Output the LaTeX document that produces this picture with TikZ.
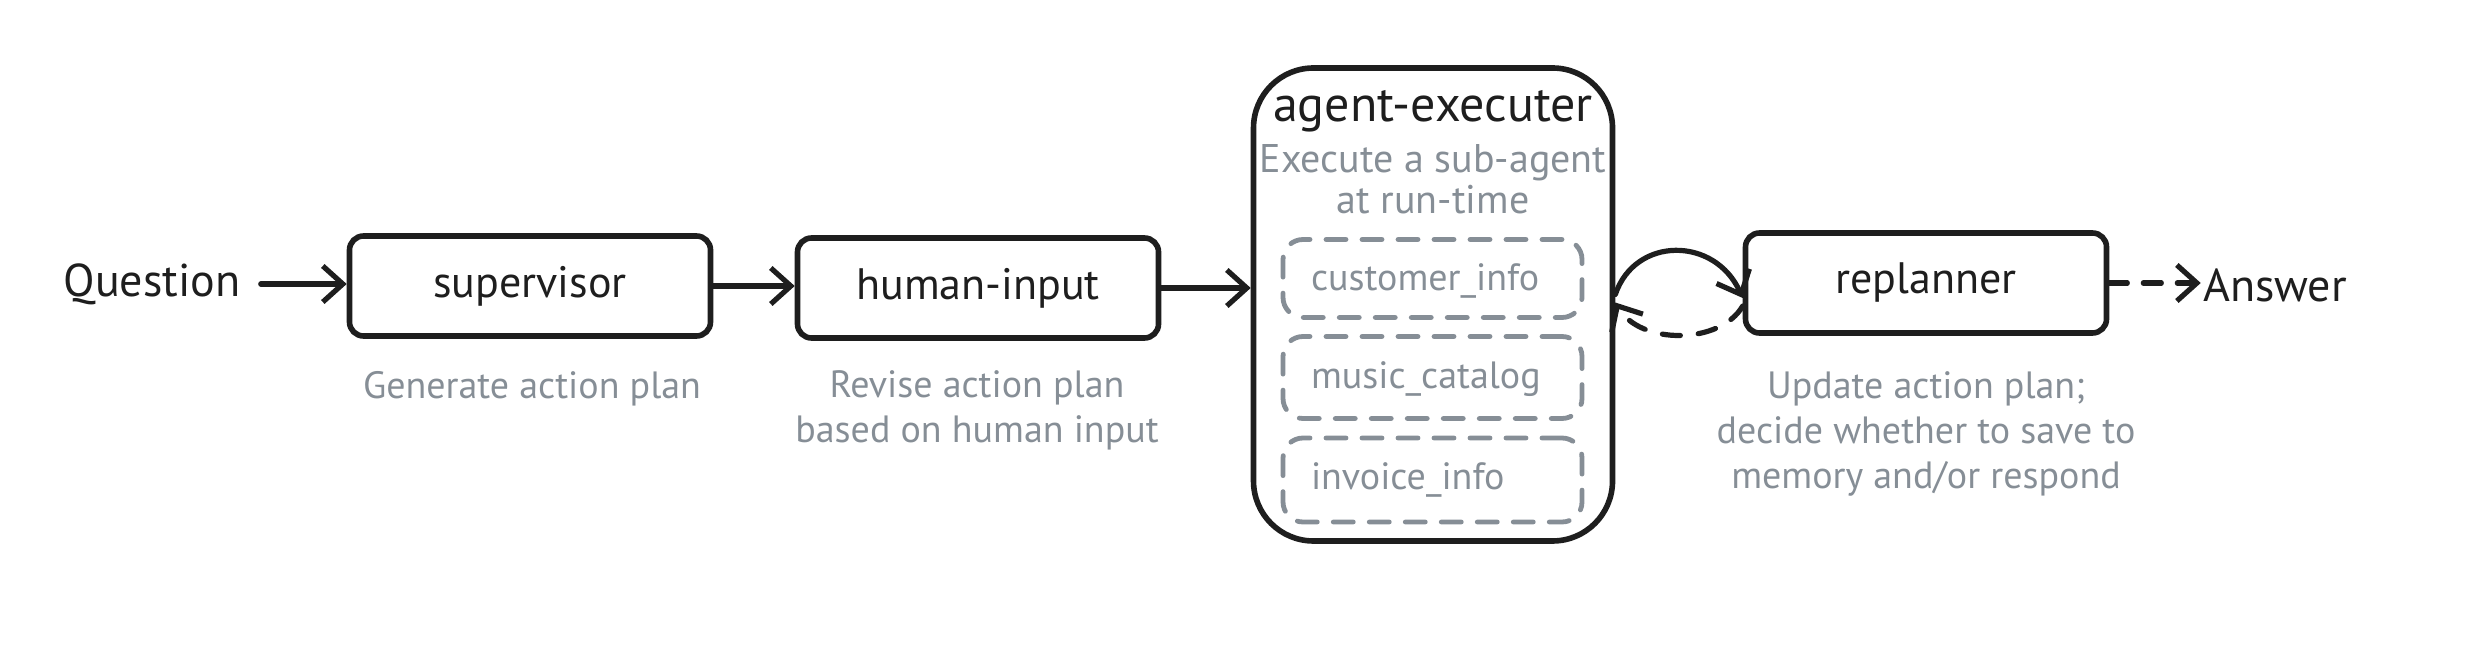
\documentclass[tikz,border=0pt]{standalone}
\usepackage{fontspec}
\setmainfont{PT Sans}
\usetikzlibrary{arrows.meta}
\definecolor{ink}{HTML}{1E1E1E}
\definecolor{note}{HTML}{868E96}
\begin{document}
\begin{tikzpicture}[x=0.5pt,y=-0.5pt,
  box/.style={draw=ink, line width=2.8pt, rounded corners=7pt, minimum width=180.5pt, minimum height=50pt, inner sep=0pt, font=\fontsize{22}{26}\selectfont, text=ink},
  sub/.style={draw=note, line width=2.4pt, dash pattern=on 10pt off 8pt, line cap=round, rounded corners=10pt, minimum width=149.5pt, inner sep=0pt},
  subtxt/.style={text=note, font=\fontsize{19}{22}\selectfont, anchor=west, inner sep=0pt},
  lbl/.style={text=ink, font=\fontsize{23}{26}\selectfont, inner sep=1pt},
  notetxt/.style={text=note, font=\fontsize{19}{22.5}\selectfont, align=center, inner sep=0pt},
  arr/.style={draw=ink, line width=2.6pt, line cap=round, -{Straight Barb[length=10pt,width=18pt,line width=2.6pt]}},
]
\useasboundingbox (0,0) rectangle (2482,656);
% main nodes
\node[lbl] (q) at (152,284) {Question};
\node[box] (sup) at (530,286) {supervisor};
\node[box] (hum) at (978,288) {human-input};
\node[draw=ink, line width=2.8pt, rounded corners=30pt, minimum width=179.5pt, minimum height=236.5pt] (ag) at (1433,304.5) {};
\node[text=ink, inner sep=0pt, font=\fontsize{25}{28}\selectfont] (agt) at (1433,111) {agent-executer};
\node[notetxt, font=\fontsize{20}{20.5}\selectfont] (agn) at (1433,179) {Execute a sub-agent\\at run-time};
\node[sub, minimum height=39pt] (ci) at (1432.5,278.5) {};
\node[sub, minimum height=41pt] (mc) at (1432.5,377.5) {};
\node[sub, minimum height=42pt] (ii) at (1432.5,480) {};
\node[subtxt] (cit) at ([xshift=15pt,yshift=-1pt]ci.west) {customer\_info};
\node[subtxt] (mct) at ([xshift=15pt,yshift=-1pt]mc.west) {music\_catalog};
\node[subtxt] (iit) at ([xshift=15pt,yshift=0pt]ii.west) {invoice\_info};
\node[box] (rep) at (1926,283) {replanner};
\node[lbl] (ans) at (2275,285) {Answer};
% notes
\node[notetxt] (n1) at (532,389) {Generate action plan};
\node[notetxt] (n2) at (977,410) {Revise action plan\\based on human input};
\node[notetxt] (n3) at (1926,434) {Update action plan;\\decide whether to save to\\memory and/or respond};
% connectors
\draw[arr] ([xshift=9pt]q.east) -- (q.east -| sup.west);
\draw[arr] (sup.east) -- (sup.east -| hum.west);
\draw[arr] (hum.east) -- (hum.east -| ag.west);
\draw[arr] ([yshift=5pt]ag.east) .. controls (1635,236) and (1715,236) .. ([yshift=-7.5pt]rep.west);
\draw[arr, dash pattern=on 9pt off 9pt] ([yshift=-11.5pt]rep.west) .. controls (1720,345) and (1640,345) .. ([yshift=1pt]ag.east);
\draw[arr, dash pattern=on 9pt off 8pt] (rep.east) -- (rep.east -| ans.west);
\end{tikzpicture}
\end{document}
